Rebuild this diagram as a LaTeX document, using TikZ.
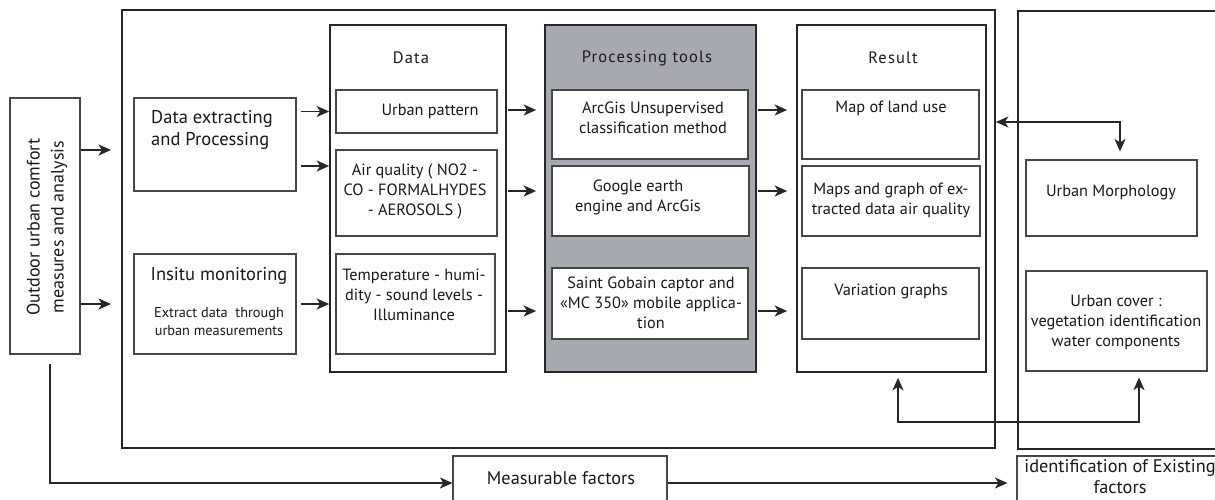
\documentclass[tikz,border=0pt]{standalone}
\usepackage{fontspec}
\setmainfont{PT Sans}
\usetikzlibrary{arrows.meta,positioning}
\definecolor{lc}{RGB}{38,38,38}
\definecolor{tc}{RGB}{25,25,25}
\definecolor{pg}{RGB}{166,170,176}

\begin{document}
\begin{tikzpicture}[x=1pt,y=-1pt,>={Stealth[length=12.5pt,width=11pt,inset=3.5pt]},
                frame/.style={draw=lc,line width=1.7pt,inner sep=0pt},
                col/.style={draw=lc,line width=1.7pt,inner sep=0pt},
                box/.style={draw=lc!85,line width=1.1pt,inner sep=0pt,fill=white},
                txt/.style={align=center,inner sep=0pt,text=tc,font=\fontsize{16.3}{20}\selectfont},
                title/.style={txt,font=\fontsize{16.5}{20}\selectfont\addfontfeatures{LetterSpace=7}},
                big/.style={txt,align=left,font=\fontsize{18.5}{22}\selectfont},
                sml/.style={txt,font=\fontsize{14.3}{18}\selectfont},
                mid/.style={txt,font=\fontsize{18.3}{21}\selectfont},
                arr/.style={->,draw=lc,line width=1.7pt},
                both/.style={<->,draw=lc,line width=1.7pt}]
                \useasboundingbox (0,0) rectangle (1215,499);
                % outer frames
                \node[frame,minimum width=873pt,minimum height=438pt] (main) at (558.5,229) {};
                \node[frame,minimum width=210pt,minimum height=438pt,anchor=north west] (side) at (1017,10) {};
                % left box
                \node[box,minimum width=70pt,minimum height=256pt] (outdoor) at (45,226) {};
                \node[mid,rotate=90,font=\fontsize{18}{24}\selectfont] (outdoorT) at (47,227) {Outdoor urban comfort\\measures and analysis};
                % inputs
                \node[box,minimum width=162pt,minimum height=93pt] (dep) at (215,144.5) {};
                \node[big] (depT) at (212,130) {Data extracting\\and Processing};
                \node[box,minimum width=162pt,minimum height=100pt] (insitu) at (215,304) {};
                \node[big] (insituT) at (219,276) {Insitu monitoring};
                \node[sml] (insituS) at (219,322) {Extract data\ \ through\\urban measurements};
                % columns
                \node[col,minimum width=176pt,minimum height=347pt] (datacol) at (418,198.5) {};
                \node[col,fill=pg,minimum width=211pt,minimum height=347pt] (proccol) at (650.5,198.5) {};
                \node[col,minimum width=189pt,minimum height=347pt] (rescol) at (891.5,198.5) {};
                \node[title] (dataT) at (411,58) {Data};
                \node[title] (procT) at (647,58) {Processing tools};
                \node[title] (resT) at (893,58) {Result};
                % data
                \node[box,minimum width=161pt,minimum height=43pt] (up) at (416.5,111.5) {};
                \node[txt] (upT) at (430,111) {Urban pattern};
                \node[box,minimum width=161pt,minimum height=86pt] (air) at (416.5,193) {};
                \node[txt] (airT) at (415,191) {Air quality ( NO2 -\\CO - FORMALHYDES\\- AEROSOLS )};
                \node[box,minimum width=159pt,minimum height=100pt] (temp) at (415.5,304) {};
                \node[txt] (tempT) at (414,295) {Temperature - humi-\\dity - sound levels -\\Illuminance};
                % processing tools
                \node[box,minimum width=196pt,minimum height=69pt] (arcgis) at (650,124.5) {};
                \node[txt] (arcgisT) at (653,118) {ArcGis Unsupervised\\classification method};
                \node[box,minimum width=197pt,minimum height=70pt] (gee) at (650.5,201) {};
                \node[txt] (geeT) at (638,197) {Google earth\\engine and ArcGis};
                \node[box,minimum width=196pt,minimum height=71pt] (sgb) at (650,303.5) {};
                \node[txt] (sgbT) at (651,303) {Saint Gobain captor and\\«MC 350» mobile applica-\\tion};
                % results
                \node[box,minimum width=177pt,minimum height=69pt] (landuse) at (890.5,124.5) {};
                \node[txt] (landuseT) at (891,108) {Map of land use};
                \node[box,minimum width=178pt,minimum height=70pt] (airmap) at (891,201) {};
                \node[txt] (airmapT) at (891,200) {Maps and graph of ex-\\tracted data air quality};
                \node[box,minimum width=177pt,minimum height=71pt] (vargr) at (890.5,303.5) {};
                \node[txt] (vargrT) at (891,291) {Variation graphs};
                % existing factors
                \node[box,minimum width=171pt,minimum height=76pt] (morph) at (1111.5,198) {};
                \node[txt] (morphT) at (1111,193) {Urban Morphology};
                \node[box,minimum width=181pt,minimum height=100pt] (cover) at (1116.5,321) {};
                \node[txt] (coverT) at (1116,322) {Urban cover :\\vegetation identification\\water components};
                % bottom row
                \node[box,minimum width=214pt,minimum height=54pt] (meas) at (560,483) {};
                \node[mid] (measT) at (561,478) {Measurable factors};
                \node[box,minimum width=208pt,minimum height=54pt] (exist) at (1121,483) {};
                \node[mid] (existT) at (1120,477) {identification of Existing\\factors};

                \coordinate (in1) at (111,150);
                \coordinate (in2) at (111,304);
                \path[every edge/.style={arr}]
                (outdoor.east |- in1) edge (in1)
                (outdoor.east |- in2) edge (in2)
                (dep.east |- up) edge[shorten <=4pt] (datacol.west |- up)
                (dep.east |- 0,166) edge[shorten <=4pt] (datacol.west |- 0,166)
                (insitu.east) edge[shorten <=4pt] (datacol.west |- insitu)
                (datacol.east |- 0,110) edge[shorten <=1pt,shorten >=8pt] (proccol.west |- 0,110)
                (datacol.east |- 0,191) edge[shorten <=1pt,shorten >=8pt] (proccol.west |- 0,191)
                (datacol.east |- 0,311) edge[shorten <=1pt,shorten >=8pt] (proccol.west |- 0,311)
                (proccol.east |- 0,110) edge[shorten <=1pt,shorten >=9pt] (rescol.west |- 0,110)
                (proccol.east |- 0,191) edge[shorten <=1pt,shorten >=9pt] (rescol.west |- 0,191)
                (proccol.east |- 0,311) edge[shorten <=1pt,shorten >=9pt] (rescol.west |- 0,311)
                (meas.east) edge[shorten >=9pt] (exist.west)
                ;
                \draw[arr,shorten <=9pt] ([xshift=5pt]outdoor.south) |- (meas.west);
                \draw[both,shorten >=8pt] (main.east |- 0,122) -| ([xshift=8.5pt]morph.north);
                \draw[both,shorten <=5pt,shorten >=6pt] ([xshift=6.5pt]rescol.south) -- ++(0,49) -| ([xshift=22.5pt]cover.south);
\end{tikzpicture}
\end{document}
